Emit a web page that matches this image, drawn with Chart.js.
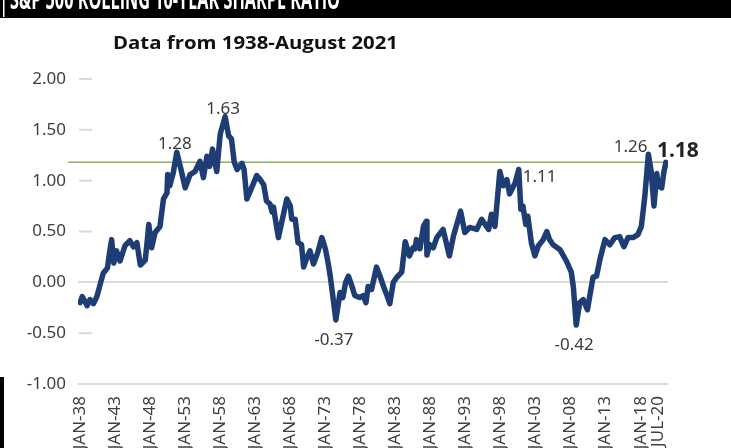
<!DOCTYPE html>
<html lang="en">
<head>
<meta charset="UTF-8" />
<title>S&amp;P 500 Rolling 10-Year Sharpe Ratio</title>
<style>
  html, body { margin: 0; padding: 0; background: #fff; }
  #wrap { width: 731px; height: 448px; }
</style>
</head>
<body>
<div id="wrap"><canvas id="sharpeChart" width="731" height="448"></canvas></div>

<script src="https://cdn.jsdelivr.net/npm/chart.js"></script>
<script>
// rolling 10-year Sharpe ratio
const years = [
  1938.0, 1938.3, 1939.0, 1939.4, 1939.9, 1940.4, 1940.9, 1941.3, 1941.9, 1942.2,
  1942.5, 1942.8, 1943.2, 1943.7, 1944.4, 1945.1, 1945.6, 1946.1, 1946.6, 1947.3,
  1947.6, 1947.8, 1948.2, 1948.7, 1949.4, 1949.9, 1950.4, 1950.5, 1950.8, 1951.3,
  1951.8, 1952.4, 1953.0, 1953.7, 1954.4, 1955.1, 1955.6, 1956.1, 1956.5, 1956.9,
  1957.5, 1958.0, 1958.7, 1959.2, 1959.6, 1960.0, 1960.4, 1961.1, 1961.4, 1961.8,
  1962.3, 1963.2, 1963.7, 1964.2, 1964.6, 1965.1, 1965.4, 1965.6, 1965.8, 1966.3,
  1966.8, 1967.5, 1968.0, 1968.2, 1968.7, 1969.1, 1969.6, 1969.9, 1970.3, 1970.8,
  1971.3, 1971.9, 1972.5, 1973.0, 1973.4, 1973.7, 1974.0, 1974.5, 1975.1, 1975.5,
  1975.9, 1976.3, 1976.8, 1977.2, 1977.9, 1978.4, 1978.8, 1979.1, 1979.6, 1980.3,
  1980.8, 1981.3, 1981.8, 1982.2, 1982.7, 1983.2, 1983.9, 1984.4, 1985.0, 1985.5,
  1985.8, 1986.0, 1986.5, 1987.0, 1987.4, 1987.5, 1987.9, 1988.4, 1988.9, 1989.8,
  1990.7, 1991.3, 1992.3, 1992.9, 1993.6, 1994.6, 1995.3, 1995.8, 1996.3, 1996.7,
  1997.2, 1997.9, 1998.4, 1998.9, 1999.3, 2000.1, 2000.6, 2000.9, 2001.2, 2001.6,
  2001.9, 2002.4, 2002.9, 2003.4, 2004.1, 2004.6, 2005.0, 2005.5, 2006.5, 2007.4,
  2008.1, 2008.4, 2008.8, 2009.3, 2009.8, 2010.4, 2010.9, 2011.2, 2011.7, 2012.2,
  2012.9, 2013.6, 2014.3, 2015.0, 2015.6, 2016.2, 2016.9, 2017.6, 2018.1, 2018.6,
  2019.1, 2019.5, 2019.9, 2020.3, 2020.5, 2021.0, 2021.3, 2021.6
];
const sharpe = [
  -0.20, -0.14, -0.23, -0.17, -0.21, -0.14, -0.01, 0.09, 0.14, 0.29,
  0.42, 0.19, 0.31, 0.21, 0.36, 0.41, 0.35, 0.39, 0.17, 0.22,
  0.42, 0.57, 0.34, 0.49, 0.55, 0.82, 0.88, 1.06, 0.95, 1.08,
  1.28, 1.11, 0.93, 1.06, 1.09, 1.19, 1.03, 1.24, 1.14, 1.31,
  1.09, 1.46, 1.63, 1.44, 1.41, 1.18, 1.11, 1.17, 1.11, 0.82,
  0.90, 1.05, 1.01, 0.96, 0.80, 0.77, 0.69, 0.74, 0.65, 0.44,
  0.60, 0.82, 0.75, 0.62, 0.62, 0.39, 0.37, 0.15, 0.23, 0.31,
  0.18, 0.29, 0.44, 0.33, 0.19, 0.06, -0.10, -0.37, -0.10, -0.15,
  0.00, 0.06, -0.04, -0.13, -0.15, -0.13, -0.20, -0.04, -0.07, 0.15,
  0.06, -0.04, -0.13, -0.21, 0.00, 0.05, 0.10, 0.40, 0.26, 0.34,
  0.33, 0.42, 0.33, 0.55, 0.60, 0.27, 0.37, 0.34, 0.44, 0.52,
  0.26, 0.46, 0.70, 0.49, 0.54, 0.52, 0.62, 0.57, 0.52, 0.67,
  0.55, 1.09, 0.95, 1.01, 0.87, 0.98, 1.11, 0.72, 0.75, 0.57,
  0.65, 0.39, 0.26, 0.36, 0.42, 0.50, 0.42, 0.37, 0.32, 0.21,
  0.10, -0.05, -0.42, -0.20, -0.17, -0.27, -0.07, 0.05, 0.06, 0.23,
  0.42, 0.37, 0.44, 0.45, 0.35, 0.44, 0.44, 0.47, 0.55, 0.85,
  1.26, 1.09, 0.75, 1.07, 0.95, 0.93, 1.08, 1.18
];

const tickYears = [1938, 1943, 1948, 1953, 1958, 1963, 1968, 1973, 1978, 1983,
                   1988, 1993, 1998, 2003, 2008, 2013, 2018, 2020.5];
const tickLabels = ['JAN-38', 'JAN-43', 'JAN-48', 'JAN-53', 'JAN-58', 'JAN-63',
                    'JAN-68', 'JAN-73', 'JAN-78', 'JAN-83', 'JAN-88', 'JAN-93',
                    'JAN-98', 'JAN-03', 'JAN-08', 'JAN-13', 'JAN-18', 'JUL-20'];

// current level reference line
const currentValue = 1.18;
const currentLineYears = [1936.3, 2021.6];

// labelled highs and lows
const noteYears = [1951.8, 1958.7, 1974.5, 2000.6, 2008.8, 2019.1, 2021.6];
const noteValues = [1.28, 1.63, -0.37, 1.11, -0.42, 1.26, 1.18];
const notePlaces = ['above', 'above', 'below', 'right', 'below', 'left', 'current'];

const headerText = 'S&P 500 ROLLING 10-YEAR SHARPE RATIO';
const subtitleText = 'Data from 1938-August 2021';

const FONT = '"Noto Sans", "Open Sans", sans-serif';

// black banner, cut-off heading and the subtitle
const framePlugin = {
  id: 'frame',
  beforeDraw(chart) {
    const c = chart.ctx;
    c.save();
    c.fillStyle = '#fff';
    c.fillRect(0, 0, chart.width, chart.height);
    c.fillStyle = '#000';
    c.fillRect(0, 0, chart.width, 18);
    c.fillRect(0, 377, 4, chart.height - 377);
    c.fillStyle = '#fff';
    c.fillRect(3, 0, 1.5, 17);

    // heading is cropped at the top edge, only its lower part shows
    c.font = 'bold 28px "Open Sans", sans-serif';
    c.textBaseline = 'alphabetic';
    c.textAlign = 'left';
    let w = c.measureText(headerText).width;
    c.save();
    c.translate(10, 9);
    c.scale(330 / w, 1);
    c.fillText(headerText, 0, 0);
    c.restore();

    c.fillStyle = '#111';
    c.font = 'bold 18px "Open Sans", sans-serif';
    w = c.measureText(subtitleText).width;
    c.translate(113, 49);
    c.scale(285 / w, 1);
    c.fillText(subtitleText, 0, 0);
    c.restore();
  },
  beforeDatasetsDraw(chart) {
    // short tick dashes just inside the plot for the non-gridline values
    const c = chart.ctx, y = chart.scales.y, left = chart.chartArea.left;
    c.save();
    c.strokeStyle = '#dadada';
    c.lineWidth = 2;
    y.ticks.forEach(t => {
      if (t.value === 0 || t.value === -1) return;
      const py = y.getPixelForValue(t.value);
      c.beginPath();
      c.moveTo(left + 1, py);
      c.lineTo(left + 14, py);
      c.stroke();
    });
    c.restore();
  }
};

const notesPlugin = {
  id: 'notes',
  afterDatasetsDraw(chart) {
    const c = chart.ctx, x = chart.scales.x, y = chart.scales.y;
    c.save();
    c.textBaseline = 'alphabetic';
    noteYears.forEach((yr, i) => {
      const px = x.getPixelForValue(yr);
      const py = y.getPixelForValue(noteValues[i]);
      const txt = noteValues[i].toFixed(2);
      const place = notePlaces[i];
      c.fillStyle = '#3a3a3a';
      c.font = '17px ' + FONT;
      if (place === 'above') {
        c.textAlign = 'center';
        c.fillText(txt, px - 2, py - 3);
      } else if (place === 'below') {
        c.textAlign = 'center';
        c.fillText(txt, px - 2, py + 25);
      } else if (place === 'right') {
        c.textAlign = 'left';
        c.fillText(txt, px + 4, py + 13);
      } else if (place === 'left') {
        c.textAlign = 'right';
        c.fillText(txt, px - 1, py - 2);
      } else {
        c.fillStyle = '#222';
        c.font = 'bold 21px ' + FONT;
        c.textAlign = 'left';
        c.fillText(txt, px - 9, py - 5);
      }
    });
    c.restore();
  }
};

const ctx = document.getElementById('sharpeChart').getContext('2d');
new Chart(ctx, {
  type: 'line',
  data: {
    datasets: [
      {
        label: 'Rolling 10-year Sharpe ratio',
        data: years.map((yr, i) => ({ x: yr, y: sharpe[i] })),
        borderColor: '#1e3d74',
        borderWidth: 5.5,
        borderJoinStyle: 'round',
        borderCapStyle: 'round',
        pointRadius: 0,
        tension: 0,
        order: 0
      },
      {
        label: 'Current',
        data: currentLineYears.map(yr => ({ x: yr, y: currentValue })),
        borderColor: '#8fae5f',
        borderWidth: 1.5,
        pointRadius: 0,
        clip: false,
        order: 1
      }
    ]
  },
  options: {
    responsive: false,
    animation: false,
    devicePixelRatio: 1,
    layout: { padding: { top: 79, right: 63, bottom: 0, left: 0 } },
    plugins: {
      legend: { display: false },
      title: { display: false },
      tooltip: { enabled: false }
    },
    scales: {
      x: {
        type: 'linear',
        min: 1937.7,
        max: 2021.9,
        afterBuildTicks: scale => { scale.ticks = tickYears.map(v => ({ value: v })); },
        afterFit: scale => { scale.height = 64; },
        grid: { display: false },
        border: { display: false },
        ticks: {
          autoSkip: false,
          maxRotation: 90,
          minRotation: 90,
          padding: 4,
          color: '#3f3f3f',
          font: { family: FONT, size: 17 },
          callback: (v, i) => tickLabels[i]
        }
      },
      y: {
        min: -1,
        max: 2,
        afterFit: scale => { scale.width = 78; },
        border: { display: false },
        grid: {
          drawTicks: false,
          lineWidth: 2,
          color: c => (c.tick && (c.tick.value === 0 || c.tick.value === -1)) ? '#dadada' : 'rgba(0,0,0,0)'
        },
        ticks: {
          stepSize: 0.5,
          padding: 12,
          color: '#3f3f3f',
          font: { family: FONT, size: 17 },
          callback: v => v.toFixed(2)
        }
      }
    }
  },
  plugins: [framePlugin, notesPlugin]
});
</script>
</body>
</html>
